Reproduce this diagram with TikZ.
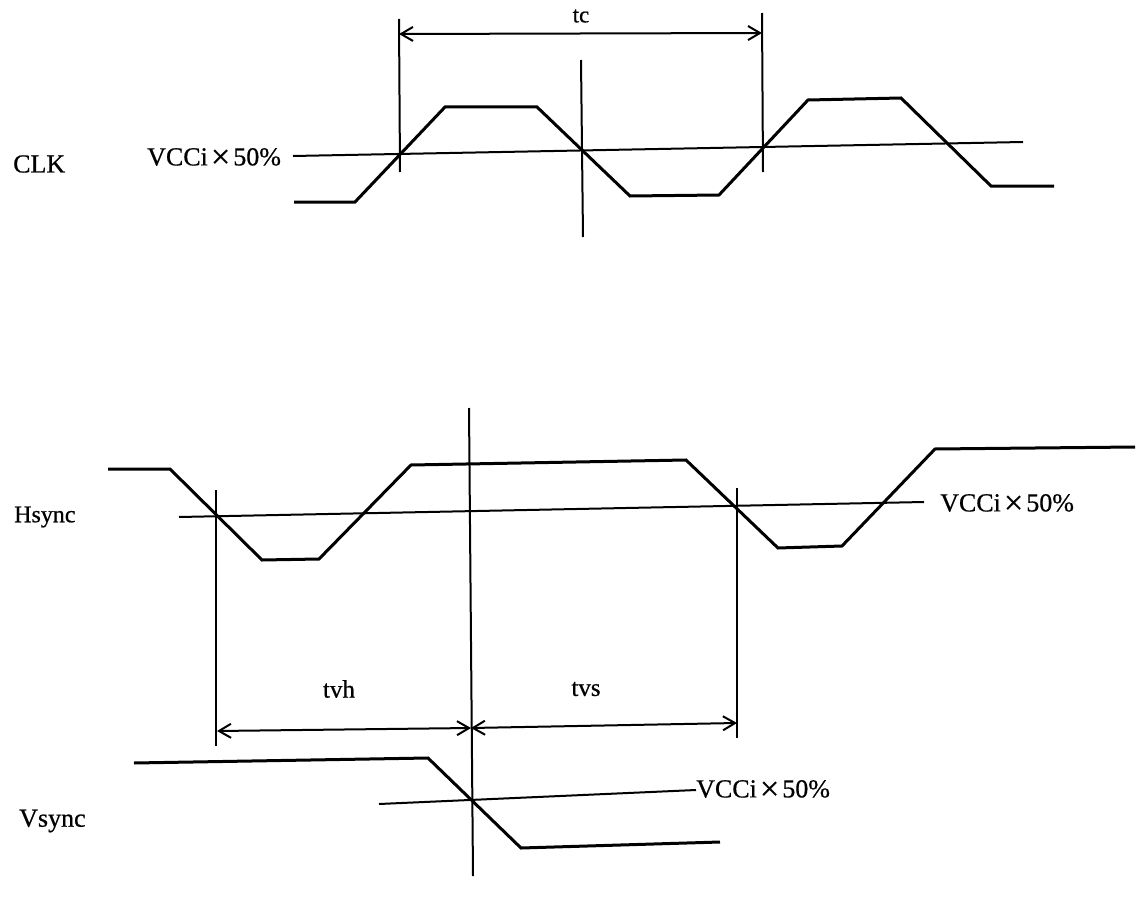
\documentclass[tikz,border=0pt]{standalone}
\usepackage{fontspec}
\setmainfont[FakeBold=0.6]{Liberation Serif}
\usetikzlibrary{arrows.meta}
\newcommand{\vccpct}{VCCi\hspace{0.12em}\raisebox{-2.5pt}{\fontsize{34pt}{34pt}\selectfont×}\hspace{0.12em}50\%}
\tikzset{
 wave/.style={line width=3pt,line join=miter},
 thin line/.style={line width=2pt},
 dim/.style={line width=2pt,{Straight Barb[length=12pt,width=14pt]}-{Straight Barb[length=12pt,width=14pt]}},
 lbl/.style={font=\fontsize{26pt}{28pt}\selectfont,inner sep=0pt,anchor=west},
 narrow lbl/.style={font=\fontsize{24pt}{26pt}\selectfont,inner sep=0pt,anchor=west},
 small/.style={font=\fontsize{25pt}{27pt}\selectfont,inner sep=0pt},
 tiny label/.style={font=\fontsize{23pt}{25pt}\selectfont,inner sep=0pt}
}
\begin{document}
\begin{tikzpicture}[x=1pt,y=-1pt]
\useasboundingbox (0,0) rectangle (1136,907);
\fill[white] (0,0) rectangle (1136,907);
\coordinate (tcL) at (399,34); \coordinate (tcR) at (762,33);
\coordinate (a1) at (399,19); \coordinate (a2) at (400,172);
\coordinate (b1) at (762,13); \coordinate (b2) at (763,172);
\coordinate (c1) at (581,60); \coordinate (c2) at (583,237);
\coordinate (r1) at (293,156); \coordinate (r2) at (1023,142);
% CLK
\node[lbl] (clk) at (13,164) {CLK};
\node[lbl] (vcc1) at (147,158) {\vccpct};
\draw[thin line] (a1)--(a2);
\draw[thin line] (b1)--(b2);
\draw[thin line] (c1)--(c2);
\draw[thin line] (r1)--(r2);
\draw[dim] (tcL)--(tcR);
\node[tiny label] (tc) at (581,16) {tc};
\draw[wave] (294,202)--(355,202)--(445,107)--(537,107)--(630,196)--(719,195)--(808,100)--(901,98)--(991,186)--(1054,186);
% Hsync
\node[narrow lbl] (hs) at (14,517) {Hsync};
\node[lbl] (vcc2) at (940,504) {\vccpct};
\coordinate (h1) at (179,517); \coordinate (h2) at (924,502);
\draw[thin line] (h1)--(h2);
\coordinate (d1) at (216,490); \coordinate (d2) at (216,746);
\coordinate (e1) at (737,488); \coordinate (e2) at (737,738);
\coordinate (f1) at (469,408); \coordinate (f2) at (473,876);
\draw[thin line] (d1)--(d2);
\draw[thin line] (e1)--(e2);
\draw[thin line] (f1)--(f2);
\draw[wave] (108,469)--(170,469)--(262,560)--(319,559)--(411,465)--(686,460)--(778,548)--(842,546)--(935,449)--(1135,447);
\coordinate (gL) at (217,731); \coordinate (gM) at (471,728); \coordinate (gR) at (737,723);
\draw[dim] (gL)--(gM);
\draw[dim] (gM)--(gR);
\node[small] (tvh) at (339,689) {tvh};
\node[small] (tvs) at (586,689) {tvs};
% Vsync
\node[lbl] (vs) at (19,821) {Vsync};
\node[lbl] (vcc3) at (696,790) {\vccpct};
\coordinate (v1) at (379,804);
\draw[thin line] (v1)--(vcc3.west);
\draw[wave] (134,763)--(428,758)--(521,848)--(720,842);
\end{tikzpicture}
\end{document}
